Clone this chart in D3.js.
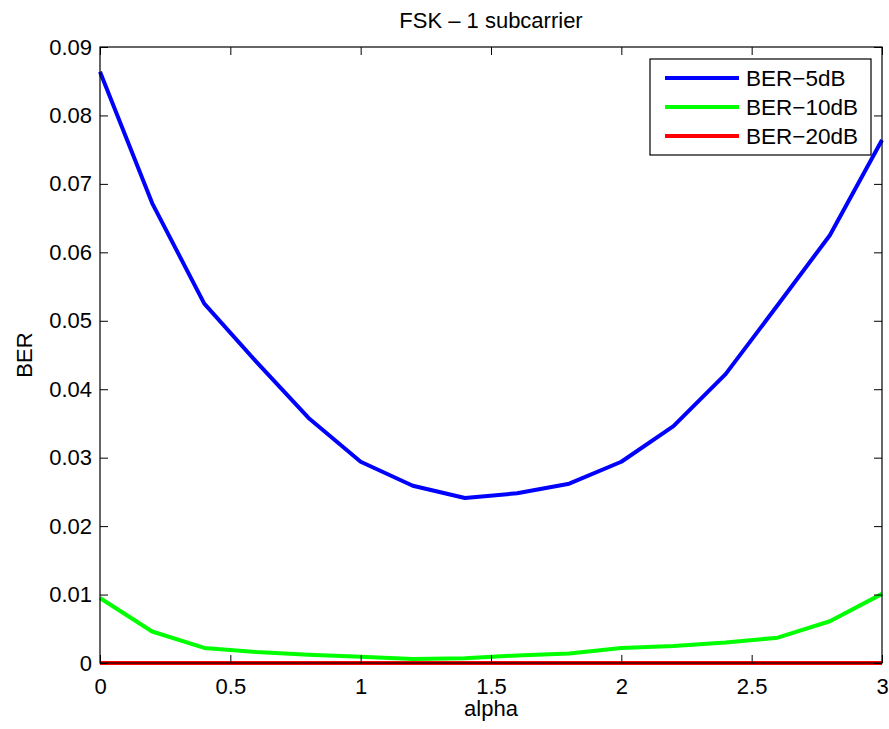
<!DOCTYPE html>
<html>
<head>
<meta charset="utf-8">
<script src="https://cdn.jsdelivr.net/npm/d3@7"></script>
<style>
  body { margin: 0; background: #fff; }
  text { font-family: "Liberation Sans", Arial, sans-serif; fill: #000; }
</style>
</head>
<body>
<div id="vis"></div>
<script>
// data
const alpha = [0, 0.2, 0.4, 0.6, 0.8, 1.0, 1.2, 1.4, 1.6, 1.8, 2.0, 2.2, 2.4, 2.6, 2.8, 3.0];
const ber5 = [0.0864, 0.0672, 0.0525, 0.0440, 0.0358, 0.0294, 0.0259, 0.0241, 0.0248, 0.0262, 0.0294, 0.0346, 0.0422, 0.0523, 0.0625, 0.0764];
const ber10 = [0.0095, 0.0046, 0.0022, 0.0016, 0.0012, 0.0009, 0.0006, 0.0007, 0.0011, 0.0014, 0.0022, 0.0025, 0.0030, 0.0037, 0.0061, 0.0101];
const ber20 = [0, 0, 0, 0, 0, 0, 0, 0, 0, 0, 0, 0, 0, 0, 0, 0];
const seriesNames = ['BER\u22125dB', 'BER\u221210dB', 'BER\u221220dB'];
const seriesColors = ['#0000ff', '#00ff00', '#ff0000'];
const xTicks = [0, 0.5, 1, 1.5, 2, 2.5, 3];
const yTicks = [0, 0.01, 0.02, 0.03, 0.04, 0.05, 0.06, 0.07, 0.08, 0.09];

const W = 889, H = 729;
let margin = { top: 47, left: 100, right: 7, bottom: 66 };
let width = W - margin.left - margin.right;
let height = H - margin.top - margin.bottom;

let svg = d3.select('#vis')
  .append('svg')
    .attr('width', W)
    .attr('height', H);

let xScale = d3.scaleLinear().domain([0, 3]).range([margin.left, margin.left + width]);
let yScale = d3.scaleLinear().domain([0, 0.09]).range([margin.top + height, margin.top]);

const fs = 22;
const tickLen = 8;

// data lines (drawn first, axes box on top)
let line = d3.line()
  .x((d, i) => xScale(alpha[i]))
  .y(d => yScale(d));

let allSeries = [ber5, ber10, ber20];
allSeries.forEach(function(s, k) {
  svg.append('path')
    .attr('d', line(s))
    .attr('fill', 'none')
    .attr('stroke', seriesColors[k])
    .attr('stroke-width', 4)
    .attr('stroke-linejoin', 'round');
});

// axes: bottom / left with labels, top / right mirrored ticks
function styleAxis(g) {
  g.selectAll('.domain').remove();
  g.selectAll('line').attr('stroke', '#000');
  g.selectAll('text').style('font-size', fs + 'px').attr('fill', '#000');
}

svg.append('g')
  .attr('transform', `translate(0, ${margin.top + height})`)
  .call(d3.axisBottom(xScale).tickValues(xTicks).tickSizeInner(-tickLen).tickSizeOuter(0).tickPadding(15).tickFormat(d3.format('')))
  .call(styleAxis);

svg.append('g')
  .attr('transform', `translate(0, ${margin.top})`)
  .call(d3.axisTop(xScale).tickValues(xTicks).tickSizeInner(-tickLen).tickSizeOuter(0).tickFormat(''))
  .call(styleAxis);

svg.append('g')
  .attr('transform', `translate(${margin.left}, 0)`)
  .call(d3.axisLeft(yScale).tickValues(yTicks).tickSizeInner(-tickLen).tickSizeOuter(0).tickPadding(8).tickFormat(d => d === 0 ? '0' : d3.format('.2f')(d)))
  .call(styleAxis);

svg.append('g')
  .attr('transform', `translate(${margin.left + width}, 0)`)
  .call(d3.axisRight(yScale).tickValues(yTicks).tickSizeInner(-tickLen).tickSizeOuter(0).tickFormat(''))
  .call(styleAxis);

// box
svg.append('rect')
  .attr('x', margin.left)
  .attr('y', margin.top)
  .attr('width', width)
  .attr('height', height)
  .attr('fill', 'none')
  .attr('stroke', '#000')
  .attr('stroke-width', 1.2);

// title and labels
svg.append('text')
  .attr('x', margin.left + width / 2)
  .attr('y', 28)
  .attr('text-anchor', 'middle')
  .style('font-size', fs + 'px')
  .text('FSK \u2013 1 subcarrier');

svg.append('text')
  .attr('x', margin.left + width / 2)
  .attr('y', 716)
  .attr('text-anchor', 'middle')
  .style('font-size', fs + 'px')
  .text('alpha');

svg.append('text')
  .attr('transform', `translate(32, ${margin.top + height / 2}) rotate(-90)`)
  .attr('text-anchor', 'middle')
  .style('font-size', fs + 'px')
  .text('BER');

// legend
let legend = svg.append('g').attr('transform', 'translate(650, 59)');
legend.append('rect')
  .attr('width', 221)
  .attr('height', 96)
  .attr('fill', '#fff')
  .attr('stroke', '#000')
  .attr('stroke-width', 1.2);

seriesNames.forEach(function(name, k) {
  let y = 19 + k * 29;
  legend.append('line')
    .attr('x1', 15).attr('x2', 89)
    .attr('y1', y).attr('y2', y)
    .attr('stroke', seriesColors[k])
    .attr('stroke-width', 4);
  legend.append('text')
    .attr('x', 96)
    .attr('y', y)
    .attr('dy', '0.36em')
    .style('font-size', '22.5px')
    .text(name);
});
</script>
</body>
</html>
